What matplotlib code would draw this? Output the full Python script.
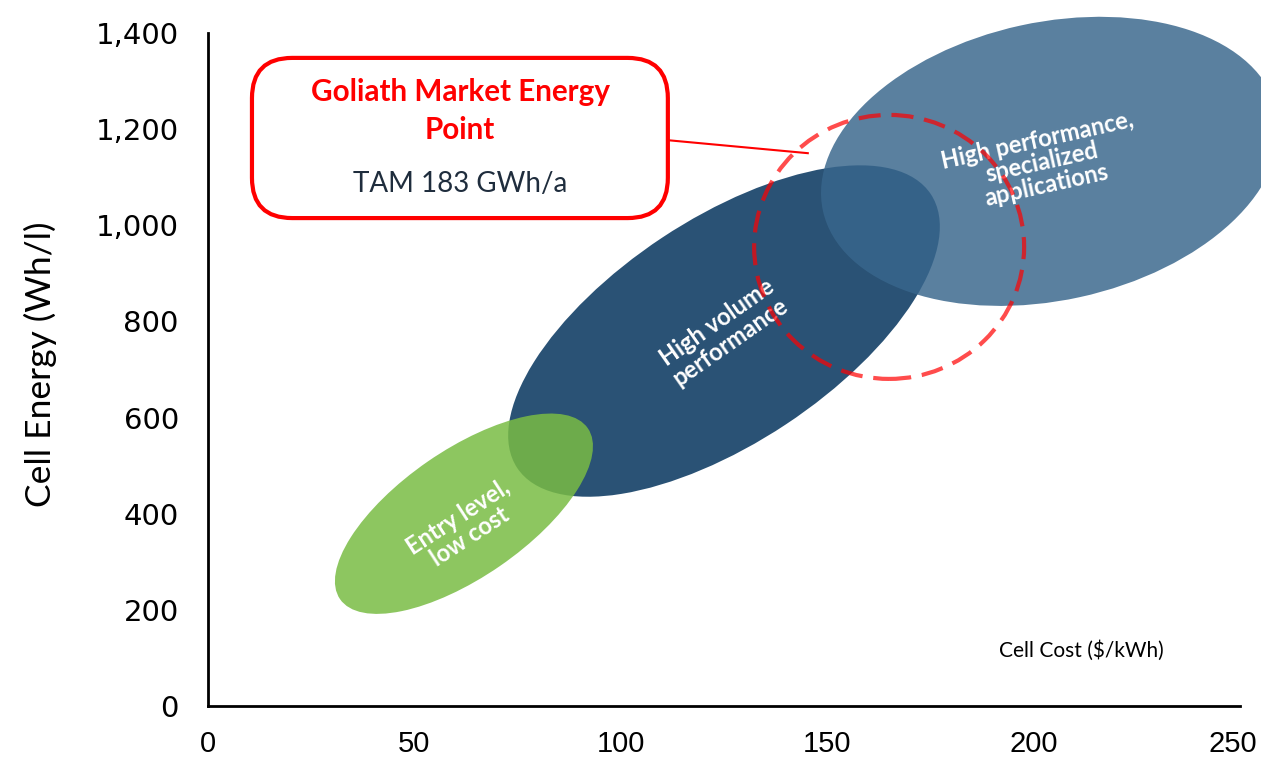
import matplotlib
matplotlib.use("Agg")
import matplotlib.pyplot as plt
import matplotlib.transforms as mtransforms
from matplotlib.collections import EllipseCollection
from matplotlib.patches import FancyBboxPatch

# Market segments (centres in $/kWh and Wh/l)
segments = ["Entry level,\nlow cost", "High volume\nperformance",
            "High performance,\nspecialized\napplications"]
seg_cost = [62, 125, 204]
seg_energy = [400, 780, 1133]
label_cost = [62, 125, 202]
label_energy = [372, 778, 1130]

# Goliath target point
goliath_cost = 165
goliath_energy = 955
callout_title = "Goliath Market Energy\nPoint"
callout_sub = "TAM 183 GWh/a"

x_ticks = [0, 50, 100, 150, 200, 250]
y_ticks = [0, 200, 400, 600, 800, 1000, 1200, 1400]

# ellipse shapes in pixels (width, height, tilt)
widths = [301, 496, 465]
heights = [127, 224, 278]
tilts = [34.6, 33.5, 12.3]
text_tilts = [33, 35, 12.5]
colors = ["#79BC44", "#2A5275", "#38668C"]
alphas = [0.85, 1.0, 0.83]
zorders = [3, 1, 2]

fig = plt.figure(figsize=(12.61, 7.62), dpi=100)
ax = fig.add_axes([208 / 1261, 56 / 762, 1032 / 1261, 673 / 762])
ax.set_xlim(0, 250)
ax.set_ylim(0, 1400)

# Segment ellipses
for i in range(3):
    ec = EllipseCollection([widths[i]], [heights[i]], [tilts[i]], units="dots",
                           offsets=[(seg_cost[i], seg_energy[i])],
                           offset_transform=ax.transData,
                           facecolors=colors[i], edgecolors="none",
                           alpha=alphas[i], zorder=zorders[i], clip_on=False)
    ax.add_collection(ec)
    ax.text(label_cost[i], label_energy[i], segments[i], rotation=text_tilts[i],
            rotation_mode="anchor", ha="center", va="center", multialignment="center",
            color="white", fontsize=17, fontweight="bold", family="Lato",
            linespacing=1.0, zorder=5)

# Goliath dashed circle
circ = EllipseCollection([270], [264], [0], units="dots",
                         offsets=[(goliath_cost, goliath_energy)],
                         offset_transform=ax.transData,
                         facecolors="none", edgecolors="red", linewidths=3,
                         linestyles=[(0, (5.3, 2.6))], alpha=0.7, zorder=6,
                         clip_on=False)
ax.add_collection(circ)

# Callout box
box = FancyBboxPatch((0.0426, 0.725), 0.403, 0.238, transform=ax.transAxes,
                     boxstyle="round,pad=0,rounding_size=0.039",
                     mutation_aspect=1032 / 673, facecolor="white",
                     edgecolor="red", linewidth=3, zorder=7)
ax.add_patch(box)
ax.text(0.2442, 0.8845, callout_title, transform=ax.transAxes, ha="center",
        va="center", color="red", fontsize=21.3, fontweight="bold", family="Lato",
        linespacing=1.45, zorder=8)
ax.text(0.2442, 0.775, callout_sub, transform=ax.transAxes, ha="center",
        va="center", color="#1F2D3D", fontsize=20, family="Lato", zorder=8)
ax.plot([111.4, 145.3], [1177, 1150], color="red", lw=1.5, zorder=6)

ax.text(211.5, 116, "Cell Cost ($/kWh)", ha="center", va="center",
        fontsize=15, family="Lato", color="black")

# Axes styling
for s in ["top", "right"]:
    ax.spines[s].set_visible(False)
for s in ["left", "bottom"]:
    ax.spines[s].set_linewidth(2)
ax.set_xticks(x_ticks)
ax.set_yticks(y_ticks)
ax.set_yticklabels([f"{v:,}" for v in y_ticks], fontsize=21, family="DejaVu Sans")
ax.set_xticklabels([str(v) for v in x_ticks], fontsize=21, family="Liberation Sans")
ax.tick_params(axis="y", length=0, pad=21)
ax.tick_params(axis="x", length=0, pad=17)
# nudge the last x label so it stays inside the figure
last = ax.get_xticklabels()[-1]
last.set_transform(last.get_transform() +
                   mtransforms.ScaledTranslation(-5 / 72, 0, fig.dpi_scale_trans))
ax.set_ylabel("Cell Energy (Wh/l)", fontsize=25.5, family="Lato")
ax.yaxis.set_label_coords(-0.146, 0.508)

plt.savefig("out.png", dpi=100)
